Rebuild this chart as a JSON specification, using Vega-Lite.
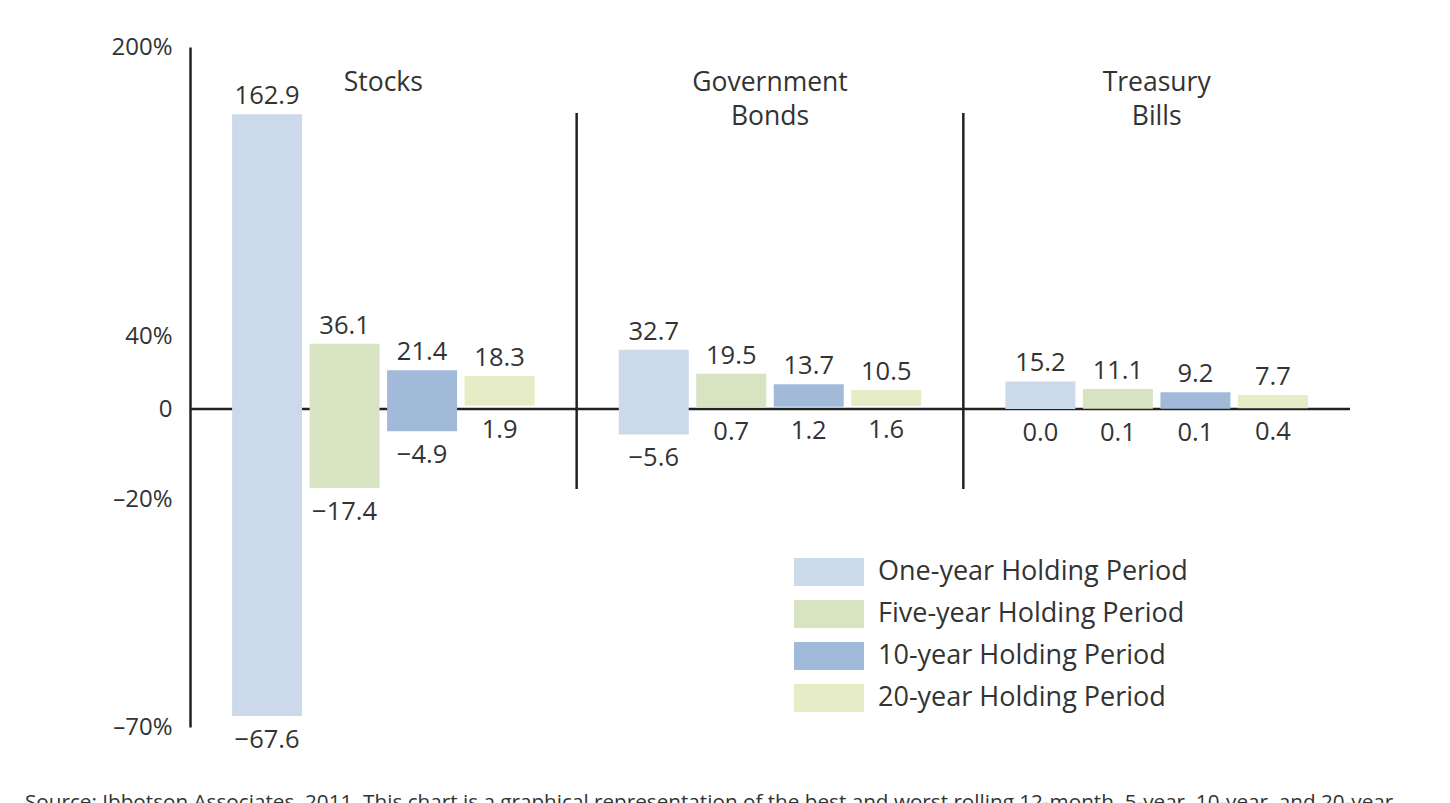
{
  "$schema": "https://vega.github.io/schema/vega-lite/v6.json",
  "width": 1160,
  "height": 680,
  "autosize": {"type": "none"},
  "padding": {"left": 190, "top": 47, "right": 100, "bottom": 76},
  "background": "white",
  "config": {
    "view": {"stroke": null},
    "font": "Open Sans",
    "text": {"font": "Open Sans", "fontSize": 25.5, "color": "#333333", "fontWeight": "normal"}
  },
  "title": {
    "text": "Source: Ibbotson Associates, 2011. This chart is a graphical representation of the best and worst rolling 12-month, 5-year, 10-year, and 20-year",
    "orient": "bottom",
    "anchor": "start",
    "frame": "group",
    "dx": -165,
    "offset": 39,
    "fontSize": 20.7,
    "fontWeight": "normal",
    "font": "Open Sans",
    "color": "#333333"
  },
  "datasets": {
    "returns": [
      {"asset": "Stocks", "period": "One-year Holding Period", "low": -67.6, "high": 162.9},
      {"asset": "Stocks", "period": "Five-year Holding Period", "low": -17.4, "high": 36.1},
      {"asset": "Stocks", "period": "10-year Holding Period", "low": -4.9, "high": 21.4},
      {"asset": "Stocks", "period": "20-year Holding Period", "low": 1.9, "high": 18.3},
      {"asset": "Government Bonds", "period": "One-year Holding Period", "low": -5.6, "high": 32.7},
      {"asset": "Government Bonds", "period": "Five-year Holding Period", "low": 0.7, "high": 19.5},
      {"asset": "Government Bonds", "period": "10-year Holding Period", "low": 1.2, "high": 13.7},
      {"asset": "Government Bonds", "period": "20-year Holding Period", "low": 1.6, "high": 10.5},
      {"asset": "Treasury Bills", "period": "One-year Holding Period", "low": 0.0, "high": 15.2},
      {"asset": "Treasury Bills", "period": "Five-year Holding Period", "low": 0.1, "high": 11.1},
      {"asset": "Treasury Bills", "period": "10-year Holding Period", "low": 0.1, "high": 9.2},
      {"asset": "Treasury Bills", "period": "20-year Holding Period", "low": 0.4, "high": 7.7}
    ],
    "groups": [
      {"asset": "Stocks"},
      {"asset": "Government Bonds"},
      {"asset": "Treasury Bills"}
    ]
  },
  "layer": [
    {
      "data": {"values": [{"base": 0}]},
      "mark": {"type": "rule", "stroke": "#222222", "strokeWidth": 2.5},
      "encoding": {
        "y": {"field": "base", "type": "quantitative", "title": null}
      }
    },
    {
      "data": {"name": "groups"},
      "transform": [{"filter": "datum.asset != 'Stocks'"}],
      "mark": {"type": "rule", "stroke": "#222222", "strokeWidth": 2.5},
      "encoding": {
        "x": {"field": "asset", "type": "nominal", "bandPosition": 0, "title": null},
        "y": {"datum": 163.5, "type": "quantitative", "title": null},
        "y2": {"datum": -17.6}
      }
    },
    {
      "data": {"name": "returns"},
      "mark": {"type": "bar", "opacity": 1},
      "encoding": {
        "x": {
          "field": "asset",
          "type": "nominal",
          "title": null,
          "axis": null,
          "scale": {"domain": ["Stocks", "Government Bonds", "Treasury Bills"], "paddingInner": 0, "paddingOuter": 0}
        },
        "xOffset": {
          "field": "period",
          "type": "nominal",
          "scale": {
            "domain": ["One-year Holding Period", "Five-year Holding Period", "10-year Holding Period", "20-year Holding Period"],
            "paddingInner": 0.097,
            "paddingOuter": 0.543
          }
        },
        "y": {
          "field": "low",
          "type": "quantitative",
          "title": null,
          "scale": {"domain": [-70, 0, 200], "range": [680, 362, 0], "nice": false, "zero": false},
          "axis": {
            "values": [200, 40, 0, -20, -70],
            "labelExpr": "datum.value == 0 ? '0' : (datum.value < 0 ? '–' + (-datum.value) : '' + datum.value) + '%'",
            "ticks": false,
            "grid": false,
            "domainColor": "#222222",
            "domainWidth": 2.5,
            "labelFontSize": 24,
            "labelFont": "Open Sans",
            "labelFontWeight": "normal",
            "labelColor": "#333333",
            "labelPadding": 18,
            "labelOverlap": false,
            "labelFlush": false,
            "labelBound": false
          }
        },
        "y2": {"field": "high"},
        "color": {
          "field": "period",
          "type": "nominal",
          "scale": {
            "domain": ["One-year Holding Period", "Five-year Holding Period", "10-year Holding Period", "20-year Holding Period"],
            "range": ["#CCD9EA", "#D8E3C2", "#A1BAD9", "#E6ECC5"]
          },
          "legend": {
            "orient": "none",
            "legendX": 604,
            "legendY": 511,
            "title": null,
            "padding": 0,
            "symbolType": "M-1,-1H4V1H-1Z",
            "symbolSize": 784,
            "symbolStrokeWidth": 0,
            "symbolOpacity": 1,
            "labelFontSize": 27,
            "labelFont": "Open Sans",
            "labelFontWeight": "normal",
            "labelColor": "#333333",
            "labelOffset": 56,
            "labelLimit": 400,
            "rowPadding": 14
          }
        }
      }
    },
    {
      "data": {"name": "returns"},
      "mark": {"type": "text", "baseline": "middle", "dy": -18},
      "encoding": {
        "x": {"field": "asset", "type": "nominal", "title": null},
        "xOffset": {"field": "period", "type": "nominal"},
        "y": {"field": "high", "type": "quantitative", "title": null},
        "text": {"field": "high", "type": "quantitative", "format": ".1f"}
      }
    },
    {
      "data": {"name": "returns"},
      "mark": {"type": "text", "baseline": "middle", "dy": 24},
      "encoding": {
        "x": {"field": "asset", "type": "nominal", "title": null},
        "xOffset": {"field": "period", "type": "nominal"},
        "y": {"field": "low", "type": "quantitative", "title": null},
        "text": {"field": "low", "type": "quantitative", "format": ".1f"}
      }
    },
    {
      "data": {"name": "groups"},
      "mark": {"type": "text", "baseline": "top", "align": "center", "lineBreak": " ", "lineHeight": 34, "fontSize": 26.5},
      "encoding": {
        "x": {"field": "asset", "type": "nominal", "title": null},
        "y": {"datum": 187.5, "type": "quantitative", "title": null},
        "text": {"field": "asset", "type": "nominal"}
      }
    }
  ]
}
